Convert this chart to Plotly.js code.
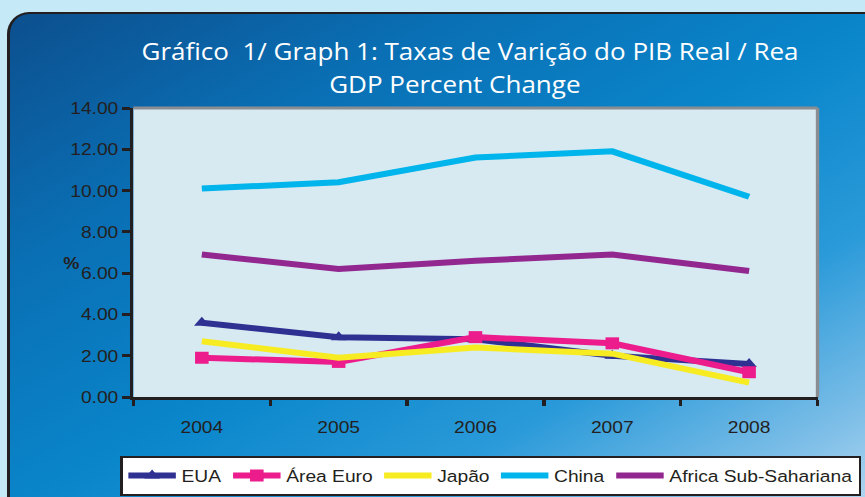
<!DOCTYPE html>
<html>
<head>
<meta charset="utf-8">
<script src="https://cdn.plot.ly/plotly-3.0.1.min.js"></script>
<style>
html,body{margin:0;padding:0;width:865px;height:497px;overflow:hidden;background:#c6e9f8;}
#panel{position:absolute;left:7px;top:12px;width:880px;height:510px;box-sizing:border-box;
 border-left:3px solid #231f20;border-top:2px solid #231f20;border-top-left-radius:22px;
 background:linear-gradient(150deg,#0c4f8e 0%,#0a6fb4 25%,#0a86cb 50%,#2a9ad9 70%,#7fbfe8 88%,#c0def3 100%);}
#chart{position:absolute;left:0;top:0;width:765px;height:497px;transform-origin:0 0;}
</style>
</head>
<body>
<div id="panel"></div>
<div id="chart"></div>
<script>
var years = ['2004','2005','2006','2007','2008'];
var eua = [3.6, 2.9, 2.8, 2.0, 1.6];
var areaEuro = [1.9, 1.7, 2.9, 2.6, 1.2];
var japao = [2.7, 1.9, 2.4, 2.1, 0.7];
var china = [10.1, 10.4, 11.6, 11.9, 9.7];
var africa = [6.9, 6.2, 6.6, 6.9, 6.1];
var yTicks = [0, 2, 4, 6, 8, 10, 12, 14];
var yTickText = ['0.00','2.00','4.00','6.00','8.00','10.00','12.00','14.00'];

// chart is drawn at a narrower width and stretched horizontally like the original
var W = 765, H = 497, S = 865 / W;
document.getElementById('chart').style.transform = 'scaleX(' + S + ')';
var L = 133 / S, R = W - 818 / S, T = 108, B = H - 397;
var PW = W - L - R, PH = H - T - B;
function fx(px) { return (px / S - L) / PW; }
function fy(py) { return (H - B - py) / PH; }

function tr(name, y, color, symbol) {
  var t = {x: years, y: y, name: name, type: 'scatter', line: {color: color, width: 6}};
  if (symbol) { t.mode = 'lines+markers'; t.marker = {symbol: symbol, size: 12, color: color}; }
  else { t.mode = 'lines'; }
  return t;
}
var data = [
  tr('EUA', eua, '#2e3192', 'triangle-up'),
  tr('Área Euro', areaEuro, '#ec1c8c', 'square'),
  tr('Japão', japao, '#f7ec22'),
  tr('China', china, '#00b4ec'),
  tr('Africa Sub-Sahariana', africa, '#92278f')
];
var ink = '#231f20';
var layout = {
  width: W, height: H,
  margin: {l: L, r: R, t: T, b: B, autoexpand: false},
  paper_bgcolor: 'rgba(0,0,0,0)',
  plot_bgcolor: '#d7e9f1',
  font: {family: 'Liberation Sans, Arial, sans-serif', color: ink, size: 17},
  showlegend: true,
  legend: {orientation: 'h', x: fx(120), xanchor: 'left', y: fy(456), yanchor: 'top',
    bgcolor: '#ffffff', bordercolor: ink, borderwidth: 2, font: {size: 17, color: ink},
    itemwidth: 42, tracegroupgap: 0},
  xaxis: {type: 'category', range: [-0.5, 4.5], showgrid: false, zeroline: false,
    showline: true, linecolor: ink, linewidth: 3, mirror: false, automargin: false,
    ticks: 'outside', tickson: 'boundaries', ticklen: 6, tickwidth: 3, tickcolor: ink,
    ticklabelstandoff: 13, tickfont: {size: 17, color: ink}},
  yaxis: {range: [0, 14], tickvals: yTicks, ticktext: yTickText, showgrid: false, zeroline: false,
    showline: true, linecolor: ink, linewidth: 3, automargin: false,
    ticks: 'outside', ticklen: 7, tickwidth: 3, tickcolor: ink,
    tickfont: {size: 17, color: ink}},
  shapes: [
    {type: 'line', xref: 'paper', yref: 'paper', x0: 0, x1: 1, y0: 1, y1: 1, line: {color: '#8a8e92', width: 3}},
    {type: 'line', xref: 'paper', yref: 'paper', x0: 1, x1: 1, y0: 0, y1: 1, line: {color: '#8a8e92', width: 3}}
  ],
  annotations: [
    {text: 'Gráfico  1/ Graph 1: Taxas de Varição do PIB Real / Rea', xref: 'paper', yref: 'paper',
     x: fx(470), y: fy(51), xanchor: 'center', yanchor: 'middle', showarrow: false,
     font: {family: 'Open Sans, sans-serif', size: 23, color: '#ffffff'}},
    {text: 'GDP Percent Change', xref: 'paper', yref: 'paper',
     x: fx(455), y: fy(84), xanchor: 'center', yanchor: 'middle', showarrow: false,
     font: {family: 'Open Sans, sans-serif', size: 23, color: '#ffffff'}},
    {text: '<b>%</b>', xref: 'paper', yref: 'paper', x: fx(71), y: fy(263),
     xanchor: 'center', yanchor: 'middle', showarrow: false, font: {size: 16, color: ink}}
  ]
};
Plotly.newPlot('chart', data, layout, {staticPlot: true});
</script>
</body>
</html>
